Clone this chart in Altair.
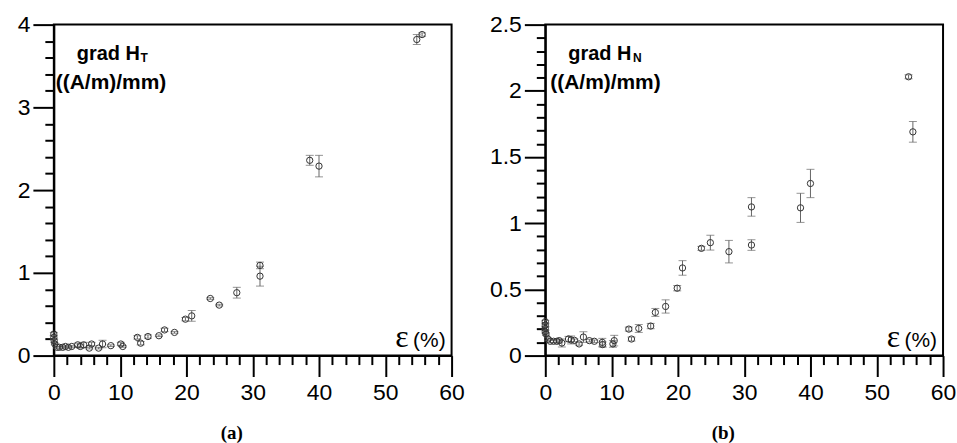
import altair as alt
import pandas as pd

# (a) tangential field gradient vs. strain
eps_a = [0, 0, 0.05, 0.15, 0.5, 0.85, 1.35, 1.75, 2.2, 2.7, 3.6, 4.0, 4.5, 5.35, 5.7,
         6.75, 7.35, 8.6, 10.1, 10.4, 12.6, 13.1, 14.2, 15.85, 16.7, 18.2, 19.85, 20.8,
         23.6, 24.95, 27.6, 31.1, 31.1, 38.6, 40.0, 54.75, 55.55]
grad_ht = [0.26, 0.22, 0.18, 0.14, 0.10, 0.10, 0.10, 0.11, 0.10, 0.11, 0.13, 0.11, 0.13,
           0.09, 0.14, 0.09, 0.14, 0.12, 0.14, 0.11, 0.22, 0.15, 0.23, 0.24, 0.31, 0.28,
           0.44, 0.48, 0.69, 0.61, 0.76, 1.09, 0.96, 2.36, 2.29, 3.82, 3.88]
err_ht = [0.02, 0.02, 0.02, 0.01, 0.01, 0.01, 0.01, 0.01, 0.01, 0.01, 0.02, 0.02, 0.03,
          0.01, 0.02, 0.01, 0.045, 0.01, 0.02, 0.01, 0.02, 0.02, 0.02, 0.01, 0.02, 0.01,
          0.02, 0.065, 0.01, 0.01, 0.065, 0.04, 0.12, 0.06, 0.13, 0.06, 0.02]

# (b) normal field gradient vs. strain
eps_b = [0, 0, 0, 0, 0.1, 0.4, 0.75, 1.25, 1.75, 2.1, 2.5, 3.5, 3.9, 4.4, 5.1, 5.75,
         6.65, 7.4, 8.6, 8.65, 10.2, 10.4, 12.6, 13.0, 14.1, 15.9, 16.6, 18.15, 19.9,
         20.7, 23.55, 24.9, 27.7, 31.1, 31.1, 38.5, 40.0, 54.8, 55.45]
grad_hn = [0.256, 0.23, 0.205, 0.18, 0.163, 0.125, 0.108, 0.108, 0.108, 0.113, 0.095,
           0.125, 0.118, 0.115, 0.088, 0.14, 0.113, 0.108, 0.10, 0.083, 0.088, 0.113,
           0.20, 0.125, 0.205, 0.223, 0.326, 0.371, 0.509, 0.662, 0.81, 0.853, 0.785,
           1.123, 0.835, 1.116, 1.30, 2.106, 1.69]
err_hn = [0.01, 0.01, 0.01, 0.01, 0.01, 0.01, 0.01, 0.01, 0.01, 0.01, 0.03, 0.02, 0.03,
          0.01, 0.01, 0.04, 0.01, 0.01, 0.03, 0.02, 0.025, 0.04, 0.015, 0.015, 0.03,
          0.02, 0.03, 0.05, 0.02, 0.055, 0.015, 0.056, 0.085, 0.07, 0.04, 0.11, 0.107,
          0.015, 0.078]

x_major = [0, 10, 20, 30, 40, 50, 60]
x_minor = [v for v in range(0, 61, 2) if v % 10]
ya_major = [0, 1, 2, 3, 4]
ya_minor = [round(v * 0.2, 1) for v in range(0, 21) if v % 5]
yb_major = [0, 0.5, 1, 1.5, 2, 2.5]
yb_minor = [round(v * 0.1, 1) for v in range(0, 26) if v % 5]

TICKFONT = "Liberation Sans, Arial, sans-serif"
SANS = "Liberation Sans, Arial, sans-serif"
SERIF = "Liberation Serif, DejaVu Serif, serif"

W, H = 399, 332


def label(text, x, y, size, weight="bold", font=SANS, align="left"):
    return alt.Chart(pd.DataFrame({"t": [text]})).mark_text(
        font=font, fontSize=size, fontWeight=weight, color="black",
        align=align, baseline="alphabetic"
    ).encode(x=alt.value(x), y=alt.value(y), text="t:N")


def panel(eps, val, err, ymax, y_major, y_minor, yfmt, sub, sub_x, paren_x, caption):
    df = pd.DataFrame({"eps": eps, "val": val, "err": err})
    df["lo"] = df["val"] - df["err"]
    df["hi"] = df["val"] + df["err"]
    xs = alt.Scale(domain=[0, 60], nice=False, zero=False)
    ys = alt.Scale(domain=[0, ymax], nice=False, zero=False)

    x_axis = alt.Axis(orient="bottom", values=x_major, tickSize=21, tickWidth=2,
                      tickColor="black", domainColor="black", domainWidth=2,
                      labelFont=TICKFONT, labelFontSize=23, labelColor="black",
                      labelPadding=5, labelFlush=False, grid=False,
                      title=caption, titleFont=SERIF, titleFontSize=19,
                      titleFontWeight="bold", titleColor="black",
                      titleX=178, titleY=83, titleBaseline="alphabetic")
    y_axis = alt.Axis(orient="left", values=y_major, format=yfmt, tickSize=21,
                      tickWidth=2, tickColor="black", domainColor="black",
                      domainWidth=2, labelFont=TICKFONT, labelFontSize=23,
                      labelColor="black", labelPadding=3, labelFlush=False,
                      grid=False, title=None)
    x_minor_axis = alt.Axis(orient="bottom", values=x_minor, tickSize=9,
                            tickWidth=2, tickColor="black", domain=False,
                            labels=False, grid=False, title=None)
    y_minor_axis = alt.Axis(orient="left", values=y_minor, tickSize=9,
                            tickWidth=2, tickColor="black", domain=False,
                            labels=False, grid=False, title=None)

    base = alt.Chart(df)
    bars = base.mark_rule(color="#666666", strokeWidth=1).encode(
        x=alt.X("eps:Q", scale=xs, axis=x_minor_axis),
        y=alt.Y("lo:Q", scale=ys, axis=y_minor_axis),
        y2="hi:Q",
    )
    cap_lo = base.mark_tick(orient="horizontal", size=8, thickness=1,
                            color="#666666").encode(
        x=alt.X("eps:Q", scale=xs, axis=None),
        y=alt.Y("lo:Q", scale=ys, axis=None),
    )
    cap_hi = base.mark_tick(orient="horizontal", size=8, thickness=1,
                            color="#666666").encode(
        x=alt.X("eps:Q", scale=xs, axis=None),
        y=alt.Y("hi:Q", scale=ys, axis=None),
    )
    pts = base.mark_point(shape="circle", filled=False, size=40, strokeWidth=1,
                          color="#333333", opacity=1).encode(
        x=alt.X("eps:Q", scale=xs, axis=x_axis),
        y=alt.Y("val:Q", scale=ys, axis=y_axis),
    )
    texts = [
        label("grad H", 23, 35, 20),
        label(sub, sub_x, 37, 12),
        label("((A/m)/mm)", paren_x, 65, 21),
        label("(%)", W - 6, 323, 21, weight="normal", align="right"),
        label("ε", W - 43, 323, 32, weight="normal", font=SERIF, align="right"),
    ]
    return alt.layer(bars, cap_lo, cap_hi, pts, *texts).resolve_axis(
        x="independent", y="independent"
    ).properties(width=W, height=H)


left = panel(eps_a, grad_ht, err_ht, 4, ya_major, ya_minor, "~g", "T", 87, 2, "(a)")
right = panel(eps_b, grad_hn, err_hn, 2.5, yb_major, yb_minor, ".1~f", "N", 88, 5, "(b)")

chart = alt.hconcat(left, right, spacing=94, bounds="flush").properties(
    padding={"left": 16, "top": 12, "right": 0, "bottom": 0}
).configure_view(stroke="black", strokeWidth=2)

chart.save("out.html", embed_options={"renderer": "svg", "actions": False})
